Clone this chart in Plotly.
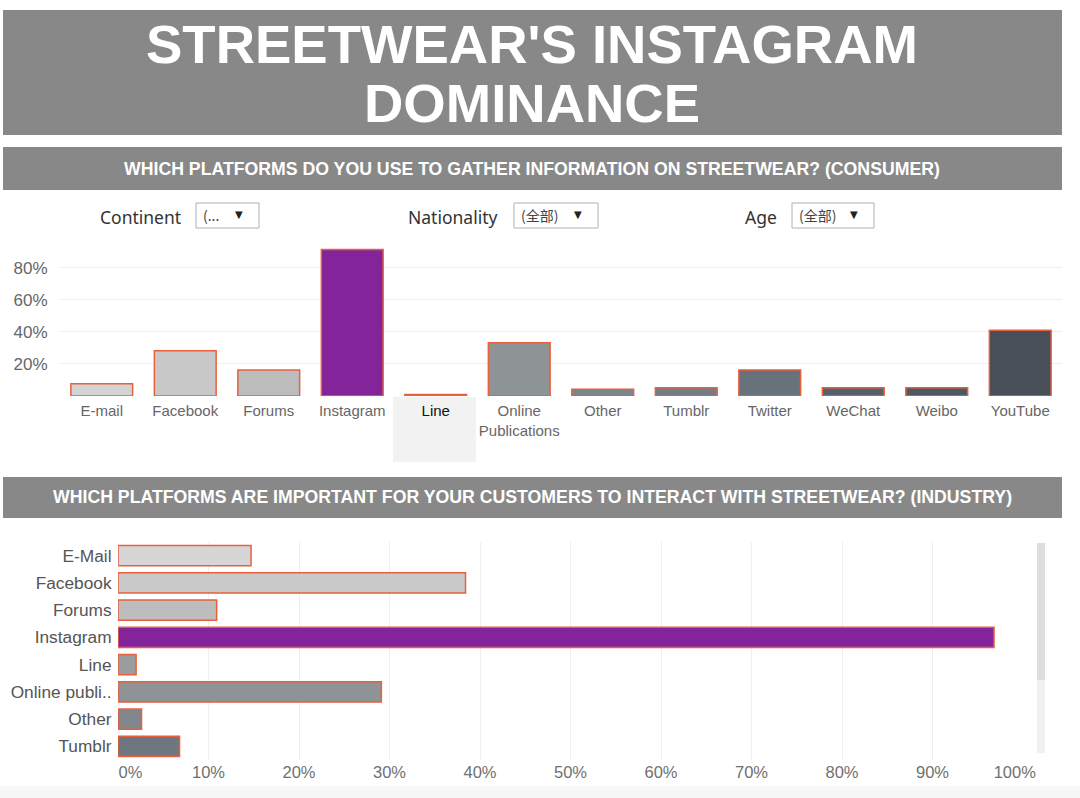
import plotly.graph_objects as go

W, H = 1080, 798

# consumer survey (top chart)
consumer_platforms = ["E-mail", "Facebook", "Forums", "Instagram", "Line", "Online Publications",
                      "Other", "Tumblr", "Twitter", "WeChat", "Weibo", "YouTube"]
consumer_share = [7.7, 28.2, 16.3, 91.5, 1.0, 33.3, 4.2, 5.2, 16.3, 5.2, 5.2, 41.0]
consumer_colors = ["#d3d3d3", "#c8c8c8", "#bcbcbc", "#84249a", "#a3a6a8", "#8e9396",
                   "#7f868b", "#757c83", "#68727b", "#58616a", "#505861", "#484f58"]
consumer_ticks = ["E-mail", "Facebook", "Forums", "Instagram",
                  "<span style='color:#111111'>Line</span>", "Online<br>Publications",
                  "Other", "Tumblr", "Twitter", "WeChat", "Weibo", "YouTube"]

# industry survey (bottom chart)
industry_platforms = ["E-Mail", "Facebook", "Forums", "Instagram", "Line", "Online publi..", "Other", "Tumblr"]
industry_share = [14.7, 38.4, 10.9, 96.8, 2.0, 29.1, 2.6, 6.8]
industry_colors = ["#d6d6d6", "#c9c9c9", "#bdbdbd", "#84249a", "#9a9c9e", "#8e9396", "#80868b", "#6e777f"]
pct_ticks = list(range(0, 101, 10))
# first/last labels are pulled inside the axis, as in the original dashboard
pct_labels = ["\u2002\u2002\u20020%"] + [f"{v}%" for v in pct_ticks[1:-1]] + ["100%\u2002\u2002"]

OUTLINE = "#e8603c"
BANNER = "#888888"


def px(x):
    return x / W


def py(y):
    return 1 - y / H


fig = go.Figure()

fig.add_trace(go.Bar(
    x=consumer_platforms, y=consumer_share,
    marker=dict(color=consumer_colors, line=dict(color=OUTLINE, width=1.5)),
    width=0.74, xaxis="x", yaxis="y", showlegend=False,
))

fig.add_trace(go.Bar(
    y=industry_platforms, x=industry_share, orientation="h",
    marker=dict(color=industry_colors, line=dict(color=OUTLINE, width=1.5)),
    width=0.74, xaxis="x2", yaxis="y2", showlegend=False,
))

shapes = []
annotations = []

# banners
shapes.append(dict(type="rect", xref="paper", yref="paper", x0=px(3), x1=px(1062), y0=py(10), y1=py(135),
                   fillcolor=BANNER, line=dict(width=0), layer="below"))
shapes.append(dict(type="rect", xref="paper", yref="paper", x0=px(3), x1=px(1062), y0=py(147), y1=py(190),
                   fillcolor=BANNER, line=dict(width=0), layer="below"))
shapes.append(dict(type="rect", xref="paper", yref="paper", x0=px(3), x1=px(1062), y0=py(477), y1=py(518),
                   fillcolor=BANNER, line=dict(width=0), layer="below"))

title_font = dict(family="Liberation Sans, Arial", size=54.5, color="white")
annotations.append(dict(text="<b>STREETWEAR'S INSTAGRAM</b>", x=px(532), y=py(45), xref="paper", yref="paper",
                        showarrow=False, font=title_font, xanchor="center", yanchor="middle"))
annotations.append(dict(text="<b>DOMINANCE</b>", x=px(532), y=py(103), xref="paper", yref="paper",
                        showarrow=False, font=title_font, xanchor="center", yanchor="middle"))

sub_font = dict(family="Liberation Sans, Arial", size=17.7, color="white")
annotations.append(dict(text="<b>WHICH PLATFORMS DO YOU USE TO GATHER INFORMATION ON STREETWEAR? (CONSUMER)</b>",
                        x=px(532), y=py(169), xref="paper", yref="paper", showarrow=False, font=sub_font,
                        xanchor="center", yanchor="middle"))
annotations.append(dict(text="<b>WHICH PLATFORMS ARE IMPORTANT FOR YOUR CUSTOMERS TO INTERACT WITH STREETWEAR? (INDUSTRY)</b>",
                        x=px(532), y=py(497), xref="paper", yref="paper", showarrow=False, font=sub_font,
                        xanchor="center", yanchor="middle"))

# filter controls
filters = [("Continent", 183, 196, 259, "(..."), ("Nationality", 500, 514, 598, "(全部)"), ("Age", 779, 792, 874, "(全部)")]
for label, lx, bx0, bx1, val in filters:
    annotations.append(dict(text=label, x=px(lx), y=py(217), xref="paper", yref="paper", showarrow=False,
                            xanchor="right", yanchor="middle",
                            font=dict(family="Noto Sans", size=17.5, color="#333333")))
    shapes.append(dict(type="rect", xref="paper", yref="paper", x0=px(bx0), x1=px(bx1), y0=py(203), y1=py(228),
                       fillcolor="white", line=dict(color="#b0b0b0", width=1)))
    annotations.append(dict(text=val, x=px(bx0 + 5), y=py(215), xref="paper", yref="paper", showarrow=False,
                            xanchor="left", yanchor="middle",
                            font=dict(family="Noto Sans CJK SC", size=14, color="#444444")))
    annotations.append(dict(text="▼", x=px(bx1 - 20), y=py(214), xref="paper", yref="paper", showarrow=False,
                            xanchor="center", yanchor="middle",
                            font=dict(family="DejaVu Sans", size=10, color="#222222")))

# highlight behind "Line" label
shapes.append(dict(type="rect", xref="paper", yref="paper", x0=px(393), x1=px(476), y0=py(397), y1=py(462),
                   fillcolor="#f2f2f2", line=dict(width=0), layer="below"))

# scrollbar of the bottom chart
shapes.append(dict(type="rect", xref="paper", yref="paper", x0=px(1037), x1=px(1045), y0=py(543), y1=py(680),
                   fillcolor="#dedede", line=dict(width=0)))
shapes.append(dict(type="rect", xref="paper", yref="paper", x0=px(1037), x1=px(1045), y0=py(680), y1=py(753),
                   fillcolor="#f1f1f1", line=dict(width=0)))
# light strip at the bottom
shapes.append(dict(type="rect", xref="paper", yref="paper", x0=0, x1=1, y0=0, y1=py(786),
                   fillcolor="#f7f7f7", line=dict(width=0), layer="below"))

fig.update_layout(
    width=W, height=H, autosize=False,
    margin=dict(l=0, r=0, t=0, b=0),
    paper_bgcolor="white", plot_bgcolor="white",
    bargap=0.26,
    shapes=shapes, annotations=annotations,
    xaxis=dict(domain=[px(60), px(1062)], anchor="y", type="category", automargin=False,
               tickvals=consumer_platforms, ticktext=consumer_ticks,
               tickfont=dict(family="Liberation Sans, Arial", size=15, color="#666666"),
               ticks="outside", ticklen=1, tickcolor="rgba(0,0,0,0)",
               showgrid=False, showline=False, fixedrange=True),
    yaxis=dict(domain=[py(396), py(247)], anchor="x", range=[0, 93], automargin=False,
               tickvals=[20, 40, 60, 80], ticktext=["20%", "40%", "60%", "80%"],
               tickfont=dict(family="Liberation Sans, Arial", size=17, color="#666666"),
               ticks="outside", ticklen=8, tickcolor="rgba(0,0,0,0)",
               showgrid=True, gridcolor="#efefef", zeroline=False, showline=False),
    xaxis2=dict(domain=[px(118), px(1023)], anchor="y2", range=[0, 100], automargin=False,
                tickvals=pct_ticks, ticktext=pct_labels,
                tickfont=dict(family="Liberation Sans, Arial", size=16.5, color="#707070"), ticks="",
                showgrid=True, gridcolor="#efefef", zeroline=False, showline=False),
    yaxis2=dict(domain=[py(760), py(542)], anchor="x2", type="category", autorange="reversed", automargin=False,
                tickfont=dict(family="Liberation Sans, Arial", size=17.3, color="#555555"),
                ticks="outside", ticklen=2, tickcolor="rgba(0,0,0,0)",
                showgrid=False, showline=False),
)

fig.write_html("out.html", config={"responsive": False, "displayModeBar": False},
               post_script="document.body.style.margin='0';document.body.style.overflow='hidden';")
